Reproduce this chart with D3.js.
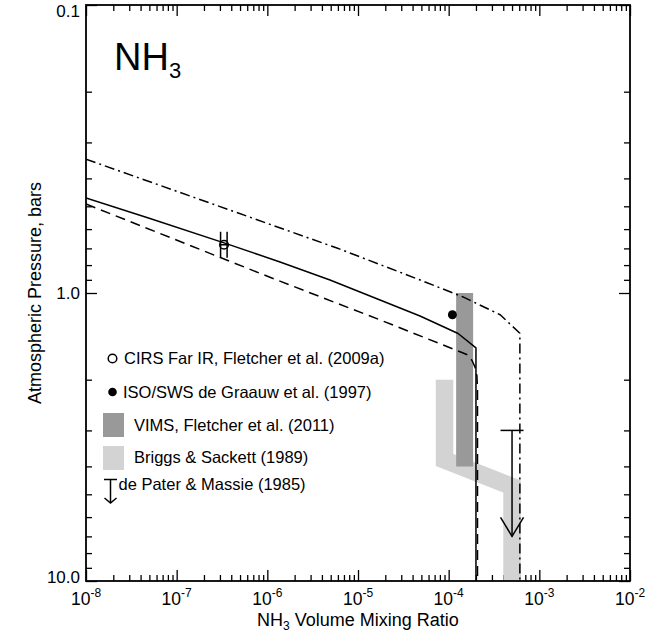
<!DOCTYPE html>
<html>
<head>
<meta charset="utf-8">
<script src="https://cdn.jsdelivr.net/npm/d3@7"></script>
<style>
  html, body { margin: 0; padding: 0; background: #fff; }
  svg { display: block; }
  text { font-family: "Liberation Sans", Arial, Helvetica, sans-serif; fill: #000; }
</style>
</head>
<body>
<svg id="chart" width="670" height="634"></svg>
<script>
// NH3 vertical profiles (volume mixing ratio vs. pressure in bars)
const solidX   = [1e-8, 5.08e-8, 3.33e-7, 1.38e-6, 4.91e-6, 1.75e-5, 4.83e-5, 1.27e-4, 2.0e-4, 2.0e-4];
const solidP   = [0.468, 0.551, 0.670, 0.780, 0.901, 1.057, 1.202, 1.382, 1.55, 10];
const dashedX  = [1e-8, 1.12e-6, 1.75e-5, 1.40e-4, 1.63e-4, 1.81e-4, 1.95e-4, 2.05e-4, 2.08e-4, 2.08e-4];
const dashedP  = [0.491, 0.887, 1.24, 1.609, 1.641, 1.716, 1.806, 1.942, 2.172, 10];
const dashDotX = [1e-8, 5.86e-6, 5.2e-5, 1.44e-4, 3.7e-4, 6.1e-4, 6.1e-4];
const dashDotP = [0.343, 0.698, 0.909, 1.032, 1.19, 1.38, 10];

// Observations
const cirsX = 3.33e-7, cirsP = 0.68, cirsXLow = 3.05e-7, cirsXHigh = 3.6e-7;
const isoX = 1.1e-4, isoP = 1.19;
const vimsX = [1.5e-4, 1.5e-4];
const vimsP = [1.0, 4.0];
const briggsX = [9e-5, 9e-5, 5e-4, 5e-4];
const briggsP = [2.0, 3.8, 4.7, 10];
const dePaterX = 5e-4, dePaterTopP = 3.0, dePaterTipP = 7.0;

// Axes
const xMajor = [1e-8, 1e-7, 1e-6, 1e-5, 1e-4, 1e-3, 1e-2];
const xExponents = ["-8", "-7", "-6", "-5", "-4", "-3", "-2"];
const yMajor = [0.1, 1, 10];
const yLabels = ["0.1", "1.0", "10.0"];

const legendItems = [
  "CIRS Far IR, Fletcher et al. (2009a)",
  "ISO/SWS de Graauw et al. (1997)",
  "VIMS, Fletcher et al. (2011)",
  "Briggs & Sackett (1989)",
  "de Pater & Massie (1985)"
];

const L = 86, R = 630, T = 5, B = 581;
const svg = d3.select("#chart");

const x = d3.scaleLog().domain([1e-8, 1e-2]).range([L, R]);
const y = d3.scaleLog().domain([0.1, 10]).range([T, B]);

function minorTicks(lo, hi) {
  const out = [];
  for (let e = Math.log10(lo); e < Math.log10(hi); e++) {
    for (let m = 2; m <= 9; m++) out.push(m * Math.pow(10, e));
  }
  return out;
}
const xMinor = minorTicks(1e-8, 1e-2);
const yMinor = minorTicks(0.1, 10);

const MAJ = 11, MIN = 6;
function addAxis(axisFn, scale, values, size, transform) {
  const g = svg.append("g").attr("transform", transform)
    .call(axisFn(scale).tickValues(values).tickSize(-size).tickFormat(""));
  g.select(".domain").remove();
  g.selectAll(".tick line").attr("stroke", "#000").attr("stroke-width", 1.3);
  return g;
}
// ticks pointing inward on all four sides
addAxis(d3.axisBottom, x, xMajor, MAJ, `translate(0,${B})`);
addAxis(d3.axisBottom, x, xMinor, MIN, `translate(0,${B})`);
addAxis(d3.axisTop, x, xMajor, MAJ, `translate(0,${T})`);
addAxis(d3.axisTop, x, xMinor, MIN, `translate(0,${T})`);
addAxis(d3.axisLeft, y, yMajor, MAJ, `translate(${L},0)`);
addAxis(d3.axisLeft, y, yMinor, MIN, `translate(${L},0)`);
addAxis(d3.axisRight, y, yMajor, MAJ, `translate(${R},0)`);
addAxis(d3.axisRight, y, yMinor, MIN, `translate(${R},0)`);

// x tick labels: powers of ten
xMajor.forEach((v, i) => {
  const t = svg.append("text")
    .attr("x", x(v)).attr("y", 605)
    .attr("text-anchor", "middle")
    .attr("font-size", 17.5);
  t.append("tspan").text("10");
  t.append("tspan").attr("font-size", 12).attr("dy", -8).text(xExponents[i]);
});

// y tick labels
yMajor.forEach((v, i) => {
  svg.append("text")
    .attr("x", 80).attr("y", Math.min(Math.max(y(v), 11), 577))
    .attr("text-anchor", "end")
    .attr("dominant-baseline", "central")
    .attr("font-size", 17)
    .text(yLabels[i]);
});

// axis titles
const xt = svg.append("text")
  .attr("x", (L + R) / 2).attr("y", 626)
  .attr("text-anchor", "middle").attr("font-size", 18);
xt.append("tspan").text("NH");
xt.append("tspan").attr("font-size", 12).attr("dy", 4).text("3");
xt.append("tspan").attr("dy", -4).text(" Volume Mixing Ratio");

svg.append("text")
  .attr("transform", `translate(41,${y(1)}) rotate(-90)`)
  .attr("text-anchor", "middle").attr("font-size", 18)
  .text("Atmospheric Pressure, bars");

// observation bands
const line = d3.line().x(d => x(d[0])).y(d => y(d[1]));
svg.append("path")
  .attr("d", line(briggsX.map((v, i) => [v, briggsP[i]])))
  .attr("fill", "none").attr("stroke", "#d3d3d3")
  .attr("stroke-width", 17.5).attr("stroke-linejoin", "miter").attr("stroke-linecap", "butt");
svg.append("path")
  .attr("d", line(vimsX.map((v, i) => [v, vimsP[i]])))
  .attr("fill", "none").attr("stroke", "#999999")
  .attr("stroke-width", 17).attr("stroke-linecap", "butt");

// model profiles
const clipId = "plotClip";
svg.append("clipPath").attr("id", clipId)
  .append("rect").attr("x", L).attr("y", T).attr("width", R - L).attr("height", B - T);
const profiles = [
  { xs: solidX, ps: solidP, dash: null },
  { xs: dashedX, ps: dashedP, dash: "10,6" },
  { xs: dashDotX, ps: dashDotP, dash: "10,4,2,4" }
];
profiles.forEach(p => {
  svg.append("path")
    .attr("clip-path", `url(#${clipId})`)
    .attr("d", line(p.xs.map((v, i) => [v, p.ps[i]])))
    .attr("fill", "none").attr("stroke", "#000").attr("stroke-width", 1.5)
    .attr("stroke-linejoin", "round")
    .attr("stroke-dasharray", p.dash);
});

// de Pater & Massie upper limit
function upperLimit(g, cx, yTop, yTip) {
  g.append("line").attr("x1", cx - 11.5).attr("x2", cx + 11.5).attr("y1", yTop).attr("y2", yTop)
    .attr("stroke", "#000").attr("stroke-width", 1.5);
  g.append("line").attr("x1", cx).attr("x2", cx).attr("y1", yTop).attr("y2", yTip)
    .attr("stroke", "#000").attr("stroke-width", 1.5);
  g.append("path")
    .attr("d", `M${cx - 11.5},${yTip - 19}L${cx},${yTip}L${cx + 11.5},${yTip - 19}`)
    .attr("fill", "none").attr("stroke", "#000").attr("stroke-width", 1.5);
}
upperLimit(svg.append("g"), x(dePaterX), y(dePaterTopP), y(dePaterTipP));

// CIRS point with x error bar
const cg = svg.append("g").attr("stroke", "#000").attr("stroke-width", 1.5);
cg.append("line").attr("x1", x(cirsXLow)).attr("x2", x(cirsXHigh))
  .attr("y1", y(cirsP)).attr("y2", y(cirsP));
[cirsXLow, cirsXHigh].forEach(v => {
  cg.append("line").attr("x1", x(v)).attr("x2", x(v))
    .attr("y1", y(cirsP) - 13).attr("y2", y(cirsP) + 13);
});
cg.append("circle").attr("cx", x(cirsX)).attr("cy", y(cirsP)).attr("r", 4.3).attr("fill", "none");

// ISO/SWS point
svg.append("circle").attr("cx", x(isoX)).attr("cy", y(isoP)).attr("r", 4.5).attr("fill", "#000");

// legend
const FS = 16.5;
const lg = svg.append("g");
lg.append("circle").attr("cx", 112.5).attr("cy", 358.5).attr("r", 4.3)
  .attr("fill", "none").attr("stroke", "#000").attr("stroke-width", 1.5);
lg.append("text").attr("x", 124).attr("y", 364).attr("font-size", FS).text(legendItems[0]);
lg.append("circle").attr("cx", 112.5).attr("cy", 392).attr("r", 4.3).attr("fill", "#000");
lg.append("text").attr("x", 123).attr("y", 397.5).attr("font-size", FS).text(legendItems[1]);
lg.append("rect").attr("x", 103).attr("y", 413).attr("width", 21).attr("height", 24).attr("fill", "#999999");
lg.append("text").attr("x", 134).attr("y", 430.5).attr("font-size", FS).text(legendItems[2]);
lg.append("rect").attr("x", 103).attr("y", 446).attr("width", 21).attr("height", 24).attr("fill", "#d3d3d3");
lg.append("text").attr("x", 134).attr("y", 462.5).attr("font-size", FS).text(legendItems[3]);
const lpg = lg.append("g");
lpg.append("line").attr("x1", 104).attr("x2", 117).attr("y1", 479.5).attr("y2", 479.5)
  .attr("stroke", "#000").attr("stroke-width", 1.5);
lpg.append("line").attr("x1", 110.5).attr("x2", 110.5).attr("y1", 479.5).attr("y2", 503)
  .attr("stroke", "#000").attr("stroke-width", 1.5);
lpg.append("path").attr("d", "M104.5,498L110.5,503L116.5,498")
  .attr("fill", "none").attr("stroke", "#000").attr("stroke-width", 1.5);
lg.append("text").attr("x", 118.5).attr("y", 490).attr("font-size", FS).text(legendItems[4]);

// species label
const title = svg.append("text").attr("x", 114).attr("y", 70).attr("font-size", 38);
title.append("tspan").text("NH");
title.append("tspan").attr("font-size", 22).attr("dy", 8).text("3");

// plot frame
svg.append("rect").attr("x", L).attr("y", T).attr("width", R - L).attr("height", B - T)
  .attr("fill", "none").attr("stroke", "#000").attr("stroke-width", 1.8);
</script>
</body>
</html>
